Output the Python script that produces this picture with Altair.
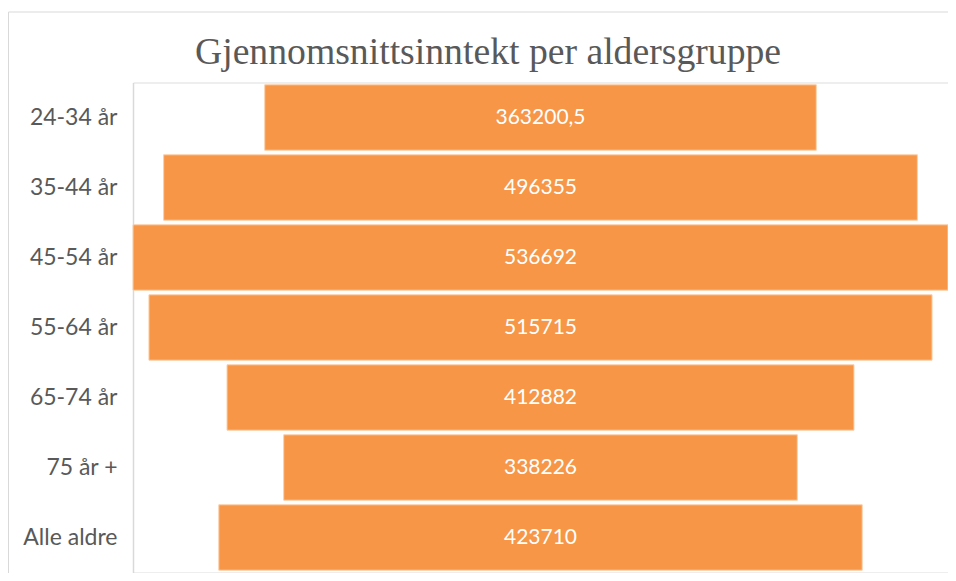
import altair as alt
import pandas as pd

categories = ["24-34 år", "35-44 år", "45-54 år", "55-64 år", "65-74 år", "75 år +", "Alle aldre"]
values = [363200.5, 496355, 536692, 515715, 412882, 338226, 423710]

df = pd.DataFrame({"gruppe": categories, "verdi": values})
half = max(values) / 2

base = alt.Chart(df).transform_calculate(
    lo="-datum.verdi / 2",
    hi="datum.verdi / 2",
    mid="0",
    lbl="replace(toString(datum.verdi), '.', ',')",
)

yenc = alt.Y(
    "gruppe:N",
    sort=categories,
    title=None,
    scale=alt.Scale(paddingInner=0.065, paddingOuter=0.0325),
    axis=alt.Axis(
        domain=True, domainColor="#d9d9d9", domainWidth=1.5,
        ticks=False, labelPadding=16, labelFont="Lato", labelFontSize=23,
        labelColor="#595959", grid=False,
    ),
)
xscale = alt.Scale(domain=[-half, half], nice=False, zero=False)

bars = base.mark_bar(color="#F79646", stroke="#fbd0ab", strokeWidth=1).encode(
    y=yenc,
    x=alt.X("lo:Q", scale=xscale, axis=None),
    x2="hi:Q",
)

text = base.mark_text(color="white", font="Lato", fontSize=21, baseline="middle").encode(
    y=alt.Y("gruppe:N", sort=categories),
    x=alt.X("mid:Q", scale=xscale, axis=None),
    text="lbl:N",
)

frame = pd.DataFrame({"a": [0]})
top_rule = alt.Chart(frame).mark_rule(color="#d9d9d9", strokeWidth=1).encode(
    x=alt.value(-124.5), x2=alt.value(850), y=alt.value(-70.5)
)
left_rule = alt.Chart(frame).mark_rule(color="#d9d9d9", strokeWidth=1).encode(
    x=alt.value(-124.5), y=alt.value(-70.5), y2=alt.value(620)
)

chart = alt.layer(top_rule, left_rule, bars, text).properties(
    width=815,
    height=490,
    title=alt.TitleParams(
        "Gjennomsnittsinntekt per aldersgruppe",
        font="Liberation Serif",
        fontSize=37.7,
        fontWeight="normal",
        color="#595959",
        anchor="middle",
        frame="group",
        dx=-52.5,
        baseline="alphabetic",
        offset=-90,
    ),
    autosize=alt.AutoSizeParams(type="none"),
    padding={"left": 125, "top": 74.5, "right": 0, "bottom": 0},
).configure_view(stroke="transparent", strokeWidth=0).configure(background="white")

chart.save("out.html", embed_options={"renderer": "svg", "actions": False})
